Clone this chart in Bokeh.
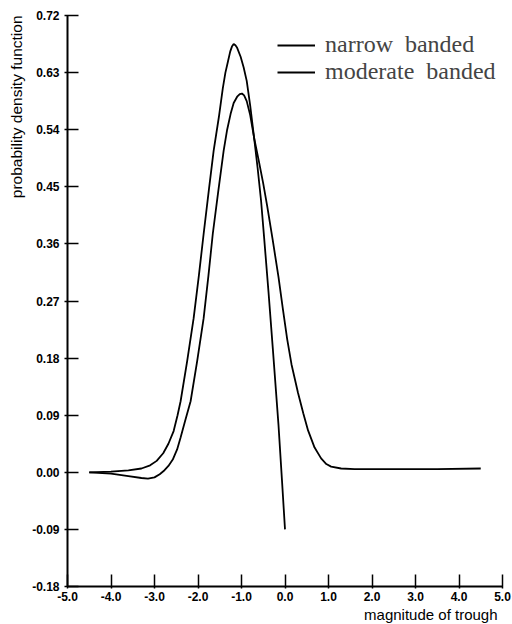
from bokeh.plotting import figure
from bokeh.models import (Range1d, FixedTicker, NumeralTickFormatter, Title,
                          Legend, LegendItem)
from bokeh.embed import file_html
from bokeh.resources import INLINE

# Probability density of the trough magnitude, two sea-state bandwidths
narrow_x = [-4.5, -4.0, -3.6, -3.3, -3.1, -2.95, -2.8, -2.68, -2.56, -2.47,
            -2.4, -2.25, -2.1, -1.98, -1.87, -1.75, -1.64, -1.52, -1.43,
            -1.37, -1.31, -1.26, -1.22, -1.18, -1.14, -1.1, -1.02, -0.95,
            -0.88, -0.8, -0.71, -0.63, -0.55, -0.48, -0.38, -0.28, -0.15,
            -0.07, 0.0]
narrow_y = [0.0, 0.001, 0.003, 0.006, 0.011, 0.018, 0.03, 0.045, 0.065, 0.09,
            0.112, 0.175, 0.243, 0.31, 0.376, 0.445, 0.507, 0.56, 0.605,
            0.63, 0.648, 0.663, 0.671, 0.675, 0.673, 0.669, 0.655, 0.638,
            0.617, 0.578, 0.527, 0.48, 0.428, 0.37, 0.285, 0.195, 0.075,
            -0.012, -0.09]

moderate_x = [-4.5, -4.0, -3.6, -3.3, -3.15, -3.0, -2.88, -2.79, -2.68, -2.58,
              -2.48, -2.4, -2.3, -2.17, -2.02, -1.87, -1.76, -1.66, -1.53,
              -1.41, -1.33, -1.25, -1.18, -1.1, -1.04, -0.99, -0.94, -0.88,
              -0.8, -0.71, -0.6, -0.5, -0.41, -0.28, -0.15, -0.05, 0.05, 0.15,
              0.3, 0.42, 0.53, 0.68, 0.83, 0.95, 1.06, 1.29, 1.6, 2.5, 3.5,
              4.5]
moderate_y = [0.0, -0.002, -0.006, -0.009, -0.01, -0.008, -0.003, 0.002, 0.01,
              0.02, 0.036, 0.055, 0.08, 0.112, 0.175, 0.243, 0.31, 0.376,
              0.445, 0.507, 0.54, 0.565, 0.582, 0.592, 0.596, 0.597, 0.594,
              0.585, 0.563, 0.527, 0.49, 0.455, 0.42, 0.365, 0.308, 0.258,
              0.21, 0.17, 0.125, 0.093, 0.066, 0.039, 0.022, 0.013, 0.009,
              0.006, 0.005, 0.005, 0.005, 0.006]

x_ticks = [-5.0, -4.0, -3.0, -2.0, -1.0, 0.0, 1.0, 2.0, 3.0, 4.0, 5.0]
y_ticks = [-0.18, -0.09, 0.0, 0.09, 0.18, 0.27, 0.36, 0.45, 0.54, 0.63, 0.72]

p = figure(width=512, height=624, output_backend="svg", toolbar_location=None,
           x_range=Range1d(-5.0, 5.0), y_range=Range1d(-0.18, 0.72),
           min_border_left=67, min_border_right=10, min_border_top=15,
           min_border_bottom=38)
p.outline_line_color = None
p.grid.visible = False
p.background_fill_color = "white"
p.border_fill_color = "white"

r_narrow = p.line(narrow_x, narrow_y, line_color="black", line_width=1.8)
r_mod = p.line(moderate_x, moderate_y, line_color="black", line_width=1.8)

for ax in (p.xaxis[0], p.yaxis[0]):
    ax.axis_line_width = 2
    ax.axis_line_color = "black"
    ax.major_tick_line_width = 1.5
    ax.major_tick_line_color = "black"
    ax.minor_tick_line_color = None
    ax.major_label_text_font = "Liberation Sans"
    ax.major_label_text_font_style = "bold"
    ax.major_label_text_font_size = "12px"
    ax.major_label_text_color = "black"

p.xaxis.ticker = FixedTicker(ticks=x_ticks)
p.xaxis.formatter = NumeralTickFormatter(format="0.0")
p.xaxis.major_tick_in = 12
p.xaxis.major_tick_out = 2
p.xaxis.major_label_standoff = 3

p.yaxis.ticker = FixedTicker(ticks=y_ticks)
p.yaxis.formatter = NumeralTickFormatter(format="0.00")
p.yaxis.major_tick_in = 11
p.yaxis.major_tick_out = 3
p.yaxis.major_label_standoff = 5

# axis titles, set flush with the far end of each axis
p.add_layout(Title(text="magnitude of trough", align="right", offset=5,
                   standoff=0, text_font="Liberation Sans",
                   text_font_size="15px", text_font_style="normal",
                   text_color="black"), "below")
p.add_layout(Title(text="probability density function", align="right",
                   offset=0, standoff=10, text_font="Liberation Sans",
                   text_font_size="15.5px", text_font_style="normal",
                   text_color="black"), "left")

legend_style = dict(label_text_font="Liberation Serif",
                    label_text_font_size="24px", glyph_width=38,
                    glyph_height=20, label_standoff=10, spacing=0, padding=0,
                    margin=0, border_line_alpha=0, background_fill_alpha=0)
p.add_layout(Legend(items=[LegendItem(label="narrow  banded",
                                      renderers=[r_narrow])],
                    location=(210, 528), **legend_style))
p.add_layout(Legend(items=[LegendItem(label="moderate  banded",
                                      renderers=[r_mod])],
                    location=(210, 501), **legend_style))

open("out.html", "w").write(file_html(p, INLINE))
